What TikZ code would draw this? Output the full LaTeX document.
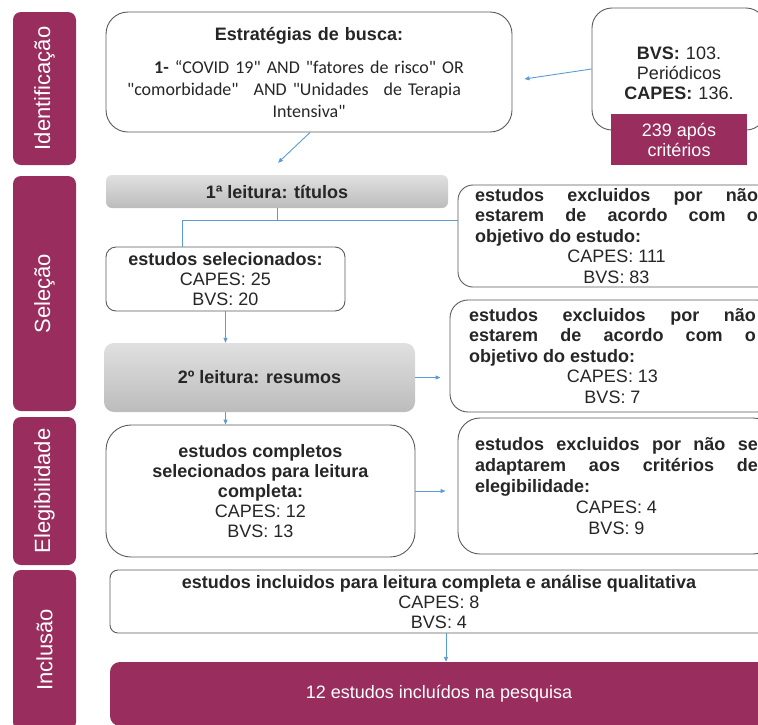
\documentclass[tikz,border=0pt]{standalone}
\usepackage{fontspec}
\setmainfont{Liberation Sans}
\newfontfamily\calfont{Carlito}
\usetikzlibrary{positioning, arrows.meta, calc}
\definecolor{cP}{RGB}{153,46,94}
\definecolor{cA}{RGB}{91,155,213}
\definecolor{cGt}{RGB}{224,224,224}
\definecolor{cGb}{RGB}{188,188,188}
\definecolor{cB}{RGB}{90,90,90}
\setlength{\parindent}{0pt}
\tolerance=10000
\hyphenpenalty=10000

\begin{document}
\begin{tikzpicture}[x=1pt, y=-1pt,
    every node/.style={font=\fontsize{18}{20}\selectfont, inner sep=0pt, text=black!85},
    phase/.style={fill=cP, rounded corners=8pt, rotate=90, minimum height=63pt, text=white, font=\fontsize{22}{24}\selectfont},
    wbox/.style={draw=cB, line width=0.9pt, fill=white, align=center},
    gbox/.style={top color=cGt, bottom color=cGb, rounded corners=6pt, font=\fontsize{18}{20}\selectfont\bfseries},
    xbox/.style={wbox, align=justify, text width=283pt, minimum width=317pt, font=\fontsize{18}{20.5}\selectfont},
    arr/.style={-{Triangle[length=5pt,width=4pt]}, cA, line width=0.9pt},
    conn/.style={cA, line width=0.9pt}]
    \clip (0,0) rectangle (758,724);

    % Phase labels on the left
    \node[phase, minimum width=153pt] (fIdent) at (44.5,88.5) {Identificação};
    \node[phase, minimum width=235pt] (fSel) at (44.5,293.5) {Seleção};
    \node[phase, minimum width=148pt] (fEleg) at (44.5,491) {Elegibilidade};
    \node[phase, minimum width=160pt] (fIncl) at (44.5,650) {Inclusão};

    % Identification
    \node[wbox, text width=390pt, rounded corners=22pt, minimum width=406pt, minimum height=120pt] (busca) at (309,72)
        {\textbf{Estratégias de busca:}\\[11pt]
         {\calfont\fontsize{18}{22}\selectfont\textbf{1-} “COVID 19" AND "fatores de risco" OR\\
          "comorbidade"\hspace{9pt} AND "Unidades\hspace{9pt} de Terapia\rule{30pt}{0pt}\\ Intensiva"\par}};
    \node[wbox, text width=160pt, rounded corners=20pt, minimum width=174pt, minimum height=122pt] (bvs) at (679,69)
        {\rule{0pt}{21pt}\textbf{BVS:} 103.\\ Periódicos\\ \textbf{CAPES:} 136.\par};
    \node[fill=cP, text=white, align=center, minimum width=136pt, minimum height=51pt] (apos) at (679,139.5) {239 após\\ critérios};

    % Selection
    \node[gbox, minimum width=342pt, minimum height=33pt] (leit1) at (277,191.5) {1ª leitura: títulos};
    \node[wbox, rounded corners=10pt, minimum width=239pt, minimum height=64pt] (selec) at (225.5,279)
        {\textbf{estudos selecionados:}\\ CAPES: 25\\ BVS: 20};
    \node[xbox, rounded corners=15pt, minimum height=102pt] (excl1) at (616.5,236)
        {\textbf{estudos excluidos por não\linebreak estarem de acordo com o\linebreak objetivo do estudo:}\par
         \centering CAPES: 111\par BVS: 83\par};
    \node[gbox, rounded corners=10pt, minimum width=311pt, minimum height=69pt] (leit2) at (259.5,377.5) {2º leitura: resumos};
    \node[xbox, text width=287pt, minimum width=325pt, rounded corners=18pt, minimum height=112pt] (excl2) at (612.5,356)
        {\textbf{estudos excluidos por não\linebreak estarem de acordo com o\linebreak objetivo do estudo:}\par
         \centering CAPES: 13\par BVS: 7\par};

    % Eligibility
    \node[wbox, rounded corners=25pt, minimum width=309pt, minimum height=132pt] (compl) at (260.5,491)
        {\textbf{estudos completos}\\ \textbf{selecionados para leitura}\\ \textbf{completa:}\\ CAPES: 12\\ BVS: 13};
    \node[xbox, font=\fontsize{18}{21}\selectfont, rounded corners=22pt, minimum height=136pt] (excl3) at (616.5,486)
        {\textbf{estudos excluidos por não se\linebreak adaptarem aos critérios de\linebreak elegibilidade:}\par
         \centering CAPES: 4\par BVS: 9\par};

    % Inclusion
    \node[wbox, rounded corners=8pt, minimum width=658pt, minimum height=63pt] (incl) at (439,601.5)
        {\textbf{estudos incluidos para leitura completa e análise qualitativa}\\ CAPES: 8\\ BVS: 4};
    \node[fill=cP, rounded corners=10pt, text=white, minimum width=658pt, minimum height=64pt] (final) at (439,694)
        {12 estudos incluídos na pesquisa};

    % Connectors
    \draw[arr] (bvs.west) -- ($(busca.east)+(12,7)$);
    \draw[arr] ($(busca.south)+(1,0)$) -- ($(leit1.north)+(1,-12)$);
    \draw[conn] (leit1.south) -- ++(0,12) coordinate (split);
    \draw[conn] (split) -- (split -| excl1.west);
    \draw[conn] (split) -| ($(selec.north)+(-43.5,0)$);
    \draw[arr] (selec.south) -- (selec.south |- leit2.north);
    \draw[arr] (leit2.east) -- ($(leit2.east -| excl2.west)+(-9,0)$);
    \draw[arr] (selec.south |- leit2.south) -- (selec.south |- compl.north);
    \draw[arr] (compl.east) -- ($(compl.east -| excl3.west)+(-12,0)$);
    \draw[arr] ($(incl.south)+(7,0)$) -- ($(final.north)+(7,0)$);
\end{tikzpicture}
\end{document}
